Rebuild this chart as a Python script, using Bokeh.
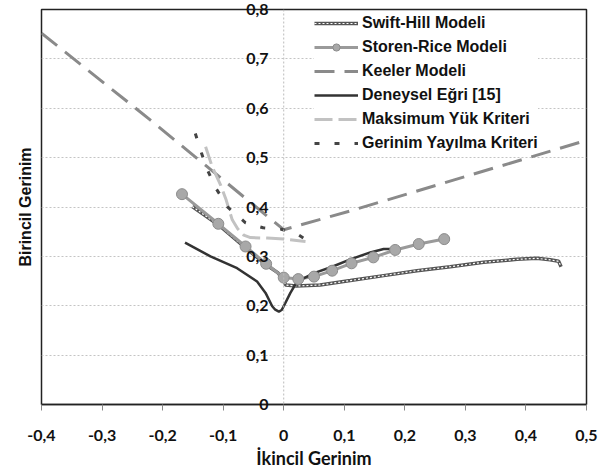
from bokeh.plotting import figure
from bokeh.models import (FixedTicker, CustomJSTickFormatter, LinearAxis, Legend,
                          LegendItem, Range1d, Span)
from bokeh.embed import file_html
from bokeh.resources import INLINE

# ---- data ----
swift_x = [-0.151, -0.108, -0.063, -0.029, -0.010, 0.000, 0.003, 0.021, 0.060, 0.110,
           0.165, 0.220, 0.275, 0.330, 0.385, 0.418, 0.440, 0.454, 0.458]
swift_y = [0.401, 0.364, 0.317, 0.283, 0.267, 0.253, 0.242, 0.240, 0.242, 0.251,
           0.261, 0.271, 0.279, 0.288, 0.294, 0.296, 0.293, 0.290, 0.279]

storen_x = [-0.168, -0.108, -0.063, -0.029, 0.000, 0.024, 0.050, 0.080, 0.112, 0.148,
            0.184, 0.223, 0.265]
storen_y = [0.426, 0.366, 0.320, 0.285, 0.257, 0.254, 0.259, 0.271, 0.286, 0.298,
            0.313, 0.325, 0.335]

keeler_x = [-0.40, -0.22, 0.00, 0.110, 0.50]
keeler_y = [0.752, 0.576, 0.354, 0.392, 0.535]

deney_x = [-0.163, -0.121, -0.077, -0.044, -0.030, -0.019, -0.014, -0.008, -0.003, 0.000,
           0.011, 0.022, 0.050, 0.080, 0.110, 0.143, 0.165, 0.176]
deney_y = [0.328, 0.300, 0.276, 0.249, 0.226, 0.199, 0.192, 0.188, 0.192, 0.199,
           0.226, 0.249, 0.266, 0.279, 0.294, 0.308, 0.315, 0.315]

maks_x = [-0.129, -0.118, -0.104, -0.095, -0.085, -0.076, -0.066, -0.055, -0.027, 0.000, 0.036]
maks_y = [0.522, 0.481, 0.444, 0.414, 0.374, 0.356, 0.343, 0.338, 0.337, 0.335, 0.330]

gerinim_x = [-0.146, -0.136, -0.126, -0.111, -0.092, -0.063, -0.034, -0.004, 0.025, 0.050]
gerinim_y = [0.549, 0.510, 0.475, 0.436, 0.399, 0.368, 0.358, 0.355, 0.343, 0.323]

x_ticks = [-0.4, -0.3, -0.2, -0.1, 0.0, 0.1, 0.2, 0.3, 0.4, 0.5]
y_ticks = [0.0, 0.1, 0.2, 0.3, 0.4, 0.5, 0.6, 0.7, 0.8]

labels = ["Swift-Hill Modeli", "Storen-Rice Modeli", "Keeler Modeli",
          "Deneysel Eğri [15]", "Maksimum Yük Kriteri", "Gerinim Yayılma Kriteri"]

# ---- figure ----
p = figure(width=613, height=471, x_range=Range1d(-0.4, 0.5), y_range=Range1d(0, 0.8),
           output_backend="svg", toolbar_location=None,
           min_border_left=41, min_border_right=27, min_border_top=9, min_border_bottom=66)
p.background_fill_color = "white"
p.border_fill_color = "white"
p.outline_line_color = "#222222"
p.outline_line_width = 1.5

fmt = CustomJSTickFormatter(code="""
if (Math.abs(tick) < 1e-9) { return '0'; }
return tick.toFixed(1).replace('.', ',');
""")

tick_font = "Lato"

# x axis
xa = p.xaxis[0]
xa.ticker = FixedTicker(ticks=x_ticks)
xa.formatter = fmt
xa.minor_tick_line_color = None
xa.major_tick_in = 0
xa.major_tick_out = 6
xa.major_tick_line_color = "#888888"
xa.axis_line_color = "#222222"
xa.axis_line_width = 1.5
xa.major_label_standoff = 19
xa.major_label_text_font = tick_font
xa.major_label_text_font_style = "bold"
xa.major_label_text_font_size = "16px"
xa.major_label_text_color = "#111111"
xa.axis_label = "İkincil Gerinim"
xa.axis_label_text_font = tick_font
xa.axis_label_text_font_style = "bold"
xa.axis_label_text_font_size = "18px"
xa.axis_label_text_color = "#111111"
xa.axis_label_standoff = 3

# inner left axis: only the title
ya = p.yaxis[0]
ya.ticker = FixedTicker(ticks=[])
ya.axis_line_color = None
ya.major_tick_line_color = None
ya.minor_tick_line_color = None
ya.axis_label = "Birincil Gerinim"
ya.axis_label_text_font = "Liberation Sans"
ya.axis_label_text_font_style = "bold"
ya.axis_label_text_font_size = "16px"
ya.axis_label_text_color = "#111111"
ya.axis_label_standoff = 8

# outer left axis: tick labels pulled in next to x = 0
yl = LinearAxis(ticker=FixedTicker(ticks=y_ticks), formatter=fmt,
                axis_line_color=None, major_tick_line_color=None,
                minor_tick_line_color=None, major_tick_in=0, major_tick_out=0)
yl.major_label_standoff = -255
yl.major_label_text_font = tick_font
yl.major_label_text_font_style = "bold"
yl.major_label_text_font_size = "16px"
yl.major_label_text_color = "#111111"
p.add_layout(yl, "left")

# vertical line at x = 0
p.add_layout(Span(location=0, dimension="height", line_color="#bbbbbb",
                  line_dash="2 2", line_width=1))

# grid
p.xgrid.grid_line_color = None
p.ygrid.ticker = FixedTicker(ticks=y_ticks)
p.ygrid.grid_line_color = "#c4c4c4"
p.ygrid.grid_line_dash = "2 2"
p.ygrid.grid_line_width = 1

# ---- series ----
r_keeler = p.line(keeler_x, keeler_y, line_color="#8a8a8a", line_width=3, line_dash="20 10")
r_maks = p.line(maks_x, maks_y, line_color="#c2c2c2", line_width=3, line_dash="18 6")
r_ger = p.line(gerinim_x, gerinim_y, line_color="#444444", line_width=3, line_dash="5 15")
r_sw1 = p.line(swift_x, swift_y, line_color="#555555", line_width=3.5)
r_sw2 = p.line(swift_x, swift_y, line_color="white", line_width=1.2, line_dash="2 2")
r_st_line = p.line(storen_x, storen_y, line_color="#9a9a9a", line_width=3)
r_den = p.line(deney_x, deney_y, line_color="#333333", line_width=2.5)
r_st_pts = p.scatter(storen_x, storen_y, marker="circle", size=11,
                     fill_color="#a8a8a8", line_color="#8c8c8c", line_width=1)

legend = Legend(items=[
    LegendItem(label=labels[0], renderers=[r_sw1, r_sw2]),
    LegendItem(label=labels[1], renderers=[r_st_line, r_st_pts]),
    LegendItem(label=labels[2], renderers=[r_keeler]),
    LegendItem(label=labels[3], renderers=[r_den]),
    LegendItem(label=labels[4], renderers=[r_maks]),
    LegendItem(label=labels[5], renderers=[r_ger]),
], location=(273, 252))
legend.padding = 7
legend.spacing = 6
legend.margin = 0
legend.glyph_width = 44
legend.glyph_height = 18
legend.label_height = 18
legend.label_standoff = 4
legend.border_line_color = None
legend.background_fill_color = "white"
legend.background_fill_alpha = 1
legend.label_text_font = "Liberation Sans"
legend.label_text_font_style = "bold"
legend.label_text_font_size = "16px"
legend.label_text_color = "#111111"
p.add_layout(legend, "center")

open("out.html", "w").write(file_html(p, INLINE))
